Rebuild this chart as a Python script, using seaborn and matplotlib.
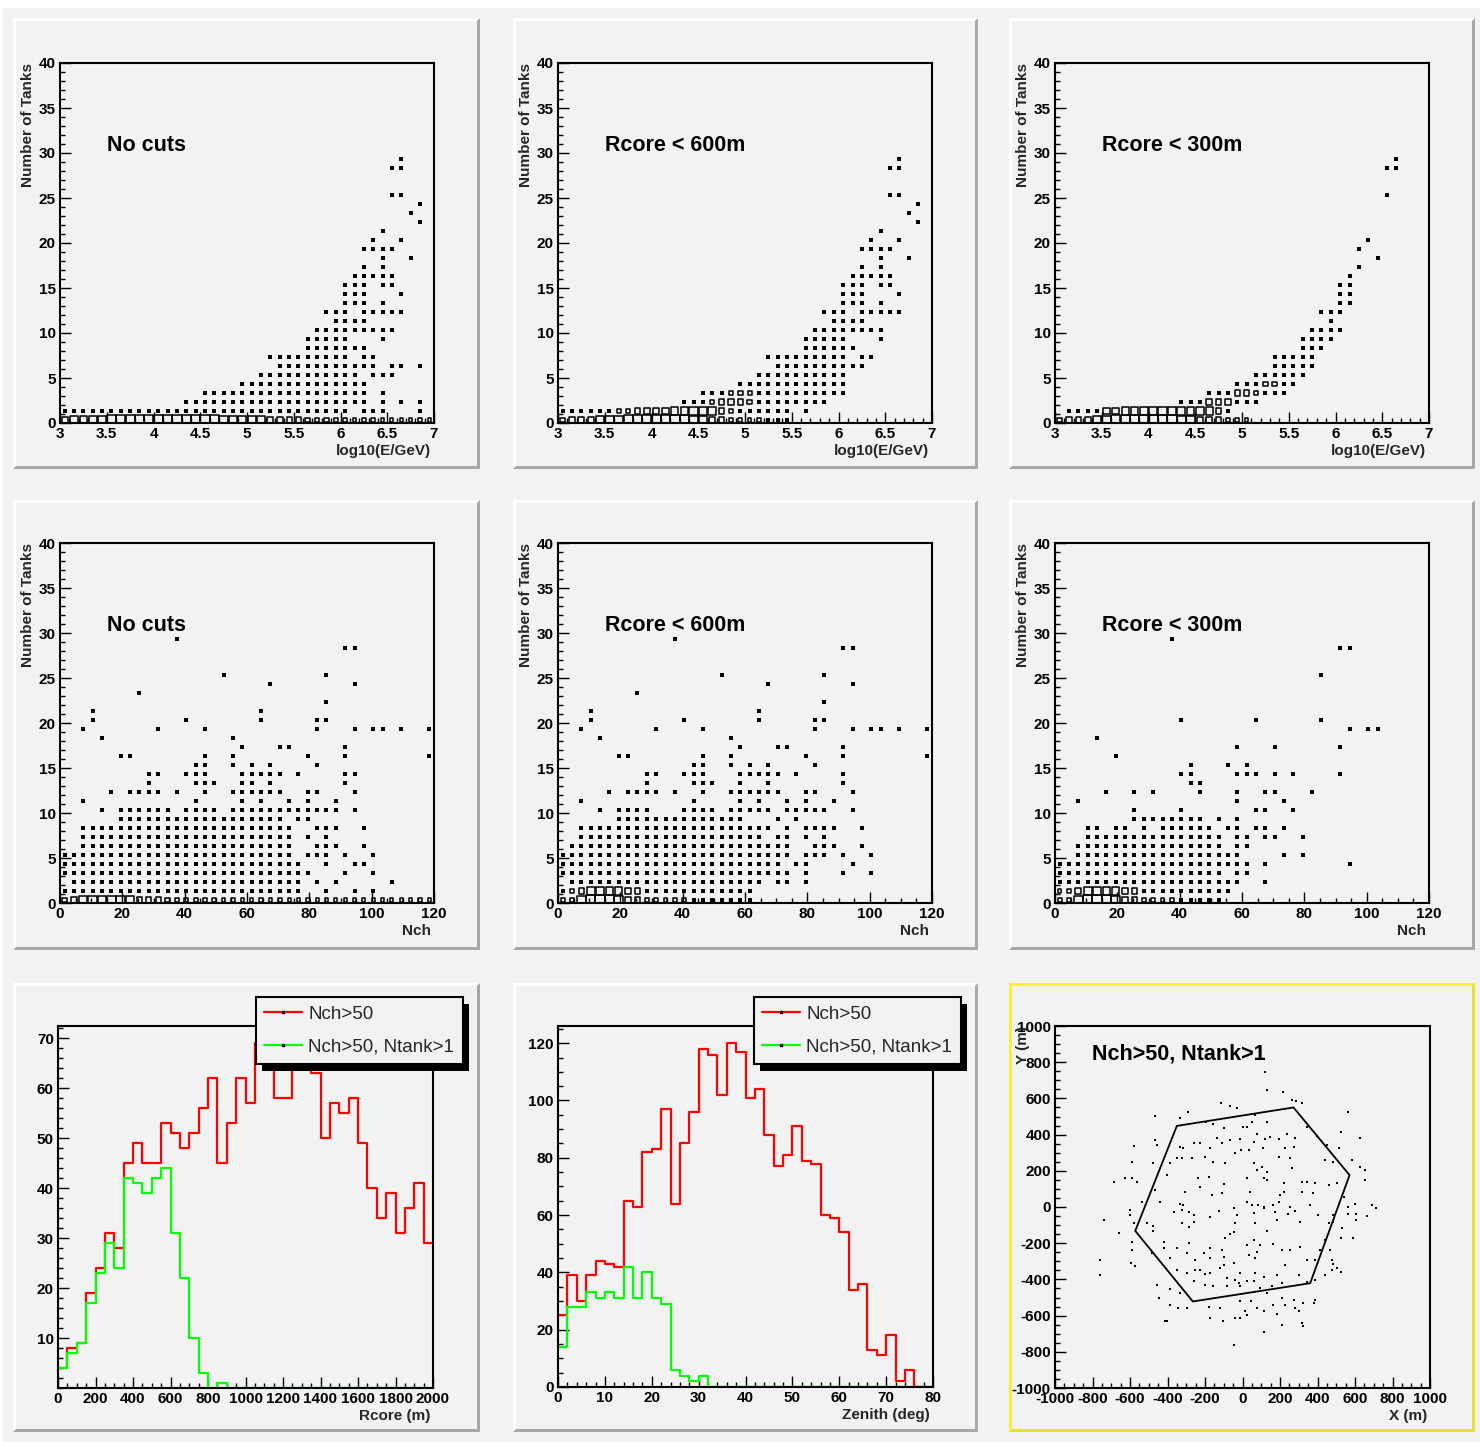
import numpy as np
import pandas as pd
import matplotlib
matplotlib.use("Agg")
import matplotlib.pyplot as plt
import seaborn as sns
from matplotlib.patches import Rectangle, Polygon
from matplotlib.lines import Line2D
from matplotlib.ticker import MultipleLocator, FixedLocator, FuncFormatter

# ============================ DATA ============================
# 2-D box histograms (Number of Tanks vs x).  Key = tank row k,
# value = occupied x-bin indices (single-entry bins drawn as dots).
E_NOCUT_DOTS = {29: "36", 28: "35,36", 25: "35,36", 24: "38", 23: "37", 22: "38",
                21: "34", 20: "33,36", 19: "32-35", 18: "34,37", 17: "32,34",
                16: "31-35", 15: "30-32,34,35", 14: "30-32,36", 13: "30-32,34",
                12: "28-30,32-36", 11: "29-32", 10: "27-35", 9: "26-30,34",
                8: "26-32", 7: "22-30,32,33", 6: "23-33,35,36,38", 5: "21-31,33-35",
                4: "19-32", 3: "15-32,34", 2: "13-32,34,36,38", 1: "0-30,32-34,38"}
# boxes: row k -> (first bin, relative box sizes)
E_NOCUT_BOXES = {0: (0, [0.6, 0.7, 0.75, 0.8, 0.85, 0.9, 0.9, 0.9, 0.9, 0.9,
                         0.9, 0.9, 0.9, 0.9, 0.9, 0.9, 0.9, 0.85, 0.85, 0.8,
                         0.8, 0.7, 0.6, 0.55, 0.5, 0.5, 0.45, 0.45, 0.4, 0.4,
                         0.4, 0.35, 0.35, 0.35, 0.3, 0.3, 0.3, 0.3, 0.3, 0.3])}

E_R600_DOTS = {29: "36", 28: "35,36", 25: "35,36", 24: "38", 23: "37", 22: "38",
               21: "34", 20: "33,36", 19: "32-35", 18: "34,37", 17: "32,34",
               16: "31-35", 15: "30-32,34,35", 14: "30-32,36", 13: "30-32,34",
               12: "28-30,32-36", 11: "29-32", 10: "27-34", 9: "26-30,34",
               8: "26-31", 7: "22-30,32,33", 6: "23-32", 5: "21-30", 4: "19-30",
               3: "15-17,21-30", 2: "13-15,21-28", 1: "0-5,19-24,26", 0: "22-24"}
E_R600_BOXES = {0: (0, [0.45, 0.55, 0.6, 0.6, 0.7, 0.8, 0.85, 0.9, 0.9, 0.95, 0.95,
                        0.95, 0.95, 0.9, 0.8, 0.7, 0.6, 0.55, 0.45, 0.4, 0.35, 0.35]),
                1: (6, [0.35, 0.4, 0.5, 0.55, 0.6, 0.65, 0.7, 0.7, 0.8, 0.85, 0.75, 0.55, 0.45]),
                2: (16, [0.4, 0.5, 0.55, 0.5, 0.45]),
                3: (18, [0.4, 0.45, 0.4])}

E_R300_DOTS = {29: "36", 28: "35,36", 25: "35", 20: "33", 19: "32", 18: "34", 17: "32",
               16: "31", 15: "30,31", 14: "30,31", 13: "30,31", 12: "28-30", 11: "29",
               10: "27-30", 9: "26-29", 8: "26-28", 7: "23-27", 6: "23-27", 5: "21-26",
               4: "19-21,24,25", 3: "16-18,22-24", 2: "13-15,19-21", 1: "1-4,18"}
E_R300_BOXES = {0: (0, [0.45, 0.55, 0.55, 0.6, 0.75, 0.85, 0.9, 0.9, 0.95, 0.95, 0.95,
                        0.9, 0.9, 0.85, 0.8, 0.6, 0.6, 0.55, 0.45, 0.4, 0.35]),
                1: (5, [0.6, 0.65, 0.7, 0.7, 0.75, 0.75, 0.8, 0.8, 0.8, 0.75, 0.7, 0.7, 0.5]),
                2: (16, [0.55, 0.55, 0.5]),
                3: (19, [0.5, 0.5, 0.45]),
                4: (22, [0.45, 0.45])}

N_NOCUT_DOTS = {29: "12", 28: "30,31", 25: "17,28", 24: "22,31", 23: "8", 22: "28",
                21: "3,21", 20: "3,13,21,27,28", 19: "2,10,15,27,31,33,34,36,39",
                18: "4,18", 17: "19,23,24,30", 16: "6,7,15,18,26,30,39",
                15: "14,15,18,20,22,27", 14: "9,10,13-15,19-23,25,30,31",
                13: "9,14-16,19,20,22,30", 12: "5,7-10,12,15,18-23,26,27,31",
                11: "2,14,19,21,24,26,29", 10: "4,6-11,13-16,18-29,31",
                9: "6-23,25,26", 8: "2-24,27-29,32", 7: "2-24,26,28",
                6: "2-24,27-29,32", 5: "0-24,26-28,30,33", 4: "0-25,28,31,32",
                3: "0-26,30,33", 2: "1-25,27,29,35", 1: "0-25,28,31,33"}
N_NOCUT_BOXES = {0: (0, [0.45, 0.5, 0.8, 0.85, 0.85, 0.85, 0.85, 0.8, 0.55, 0.5,
                         0.5, 0.45, 0.45, 0.4, 0.4, 0.35, 0.35, 0.35, 0.35, 0.35,
                         0.35, 0.35, 0.35, 0.35, 0.3, 0.3, 0.35, 0.3, 0.3, 0.3,
                         0.3, 0.3, 0.3, 0.3, 0.3, 0.3, 0.3, 0.3, 0.3, 0.3])}

N_R600_DOTS = {29: "12", 28: "30,31", 25: "17,28", 24: "22,31", 23: "8", 22: "28",
               21: "3,21", 20: "3,13,21,27,28", 19: "2,10,15,27,31,33,34,36,39",
               18: "4,18", 17: "19,23,24,30", 16: "6,7,15,18,26,30,39",
               15: "14,15,18,20,22,27", 14: "9,10,13-15,19-23,25,30",
               13: "9,14-16,19,22,30", 12: "5,7-10,12,15,18-23,26,27,31",
               11: "2,14,19,21,24,26,29", 10: "4,6-9,13-16,18-22,24-28,31",
               9: "6-19,23,25", 8: "2-22,24,26-29,32", 7: "2-21,23,24,26,28",
               6: "1-24,27-29,32", 5: "0-24,26-28,30,33", 4: "0-23,25,26,31",
               3: "0-24,26,30,33", 2: "1-21,23,24,26", 1: "0,9-20", 0: "14-20"}
N_R600_BOXES = {0: (0, [0.4, 0.45, 0.85, 0.9, 0.9, 0.9, 0.85, 0.55, 0.5, 0.4,
                        0.4, 0.35, 0.35, 0.35]),
                1: (1, [0.4, 0.55, 0.75, 0.8, 0.75, 0.7, 0.55, 0.5])}

N_R300_DOTS = {29: "12", 28: "30,31", 25: "28", 20: "13,21,28", 19: "31,33,34", 18: "4",
               17: "19,23,30", 16: "6", 15: "14,18,20", 14: "13,14,19-21,23,25,30",
               13: "14,15", 12: "5,8,10,15,19,22,23,27", 11: "2,19,24",
               10: "8,13,21,22,25", 9: "8-15,17,19",
               8: "3,4,6,7,9,11-16,18,19,21,22,24", 7: "3-17,19,20,22,23,26",
               6: "2-17,19,20", 5: "2-19,24,26", 4: "0-20,22,31", 3: "0-17,19,20",
               2: "0-19,22", 1: "9-18", 0: "13-17"}
N_R300_BOXES = {0: (0, [0.4, 0.45, 0.85, 0.9, 0.9, 0.9, 0.85, 0.55, 0.5, 0.4,
                        0.35, 0.35, 0.35]),
                1: (0, [0.35, 0.4, 0.6, 0.75, 0.8, 0.75, 0.7, 0.6, 0.5])}

# 1-D histograms (40 bins each)
RCORE_NCH50 = [4, 8, 9, 19, 24, 31, 28, 45, 49, 45, 45, 53, 51, 48, 51, 56, 62, 45, 53, 62,
               57, 69, 65, 58, 58, 64, 66, 63, 50, 57, 55, 58, 49, 40, 34, 39, 31, 36, 41, 29]
RCORE_NTANK1 = [4, 7, 9, 17, 23, 29, 24, 42, 41, 39, 42, 44, 31, 22, 10, 3, 0, 1, 0, 0,
                0, 0, 0, 0, 0, 0, 0, 0, 0, 0, 0, 0, 0, 0, 0, 0, 0, 0, 0, 0]
ZEN_NCH50 = [25, 39, 30, 39, 44, 43, 42, 65, 63, 82, 83, 97, 64, 85, 96, 118, 116, 102, 120, 117,
             101, 104, 88, 77, 81, 91, 79, 78, 60, 59, 54, 34, 36, 13, 11, 18, 2, 6, 0, 0]
ZEN_NTANK1 = [14, 28, 28, 33, 31, 33, 31, 42, 31, 40, 31, 29, 6, 4, 2, 4, 0, 0, 0, 0,
              0, 0, 0, 0, 0, 0, 0, 0, 0, 0, 0, 0, 0, 0, 0, 0, 0, 0, 0, 0]
LEGEND_LABELS = ["Nch>50", "Nch>50, Ntank>1"]

# core positions (m)
XY_POINTS = [(121,746),(130,645),(215,636),(263,590),(286,585),(316,572),(-114,572),(-69,559),(-27,548),(-293,526),(-466,504),(-332,493),(560,526),(68,507),(-194,471),(-155,458),(50,471),(130,471),(23,443),(-101,434),(4,443),(343,443),(524,415),(-466,369),(-261,351),(-226,351),(-137,382),(-66,369),(-12,375),(76,401),(121,375),(148,388),(192,375),(236,401),(281,379),(396,393),(624,379),(-457,342),(-581,338),(-332,333),(-315,327),(-172,324),(-110,351),(-9,314),(32,314),(59,360),(108,324),(228,327),(272,333),(450,342),(512,327),(-350,272),(-324,272),(-270,268),(-199,278),(-155,250),(-92,241),(-39,296),(59,241),(103,222),(130,195),(192,278),(254,268),(441,259),(485,250),(583,259),(628,222),(-590,250),(-475,241),(-386,241),(654,204),(-626,162),(-590,162),(-564,140),(-688,140),(-404,176),(-235,158),(-181,167),(-97,125),(-226,112),(23,158),(76,204),(112,158),(130,149),(219,131),(263,213),(316,140),(343,140),(388,131),(459,121),(503,131),(654,149),(-466,94),(-306,85),(-164,66),(-110,75),(41,85),(219,85),(201,66),(316,85),(375,75),(539,57),(-439,29),(-537,29),(-332,15),(-315,11),(23,29),(50,11),(85,11),(112,2),(165,11),(192,29),(254,2),(361,11),(565,2),(601,15),(690,11),(713,-7),(-599,-17),(-368,-26),(-324,-17),(-288,-29),(-261,-44),(-172,-53),(-128,-22),(-48,-7),(-30,-44),(59,-35),(112,-7),(174,-29),(245,-40),(281,-22),(308,-81),(405,-44),(485,-44),(565,-40),(606,-40),(663,-48),(-741,-72),(-599,-44),(-581,-90),(-510,-90),(-475,-103),(-324,-90),(-261,-81),(-288,-108),(-39,-90),(68,-90),(183,-72),(459,-90),(485,-81),(606,-72),(-661,-145),(-475,-132),(-48,-136),(130,-132),(-66,-151),(530,-118),(-590,-191),(-421,-191),(-288,-200),(-92,-173),(23,-210),(59,-182),(94,-210),(165,-206),(308,-219),(441,-182),(414,-237),(467,-237),(524,-173),(588,-173),(-590,-237),(-421,-228),(-350,-228),(-208,-255),(-172,-228),(-110,-237),(-101,-274),(32,-265),(76,-246),(68,-283),(210,-237),(254,-237),(-484,-255),(-386,-283),(-297,-255),(-252,-292),(-172,-283),(-101,-320),(-48,-311),(228,-320),(343,-292),(388,-292),(476,-292),(485,-316),(503,-338),(524,-357),(-595,-311),(-572,-324),(-759,-292),(-350,-347),(-297,-366),(-252,-347),(-226,-347),(-199,-369),(-172,-366),(-119,-338),(-84,-393),(-12,-366),(68,-366),(112,-384),(183,-375),(299,-375),(343,-412),(388,-404),(441,-375),(476,-347),(-759,-375),(-457,-430),(-261,-408),(-199,-430),(-155,-434),(-84,-434),(-39,-404),(-21,-421),(-12,-439),(23,-408),(59,-408),(94,-449),(156,-439),(210,-421),(-386,-452),(-332,-476),(59,-467),(130,-476),(-448,-504),(-386,-540),(-342,-559),(-297,-559),(-181,-550),(-119,-559),(-12,-518),(44,-522),(76,-559),(112,-574),(165,-540),(210,-504),(272,-513),(228,-540),(281,-559),(325,-531),(379,-531),(388,-513),(299,-577),(14,-577),(-39,-614),(-12,-614),(23,-595),(-172,-614),(-105,-632),(-416,-632),(-404,-632),(183,-590),(210,-654),(316,-641),(325,-660),(112,-693),(-48,-761)]
HEX_X = [-350, 272, 571, 361, -265, -572]
HEX_Y = [448, 550, 176, -421, -522, -132]

PANEL_TEXT_ROW = ["No cuts", "Rcore < 600m", "Rcore < 300m"]

# ============================ STYLE ============================
sns.set_theme(style="white")
plt.rcParams['font.family'] = ['Liberation Sans', 'DejaVu Sans']
plt.rcParams['font.weight'] = 'bold'
plt.rcParams['axes.unicode_minus'] = False

W, H = 1480, 1442
PAD_BG = '#f2f2f2'
fig = plt.figure(figsize=(W / 100, H / 100), dpi=100)
fig.patch.set_facecolor(PAD_BG)


def frac_rect(x0, y0, x1, y1):
    return [x0 / W, 1 - y1 / H, (x1 - x0) / W, (y1 - y0) / H]


def rect(x0, y0, x1, y1, color, z=-11):
    fig.patches.append(Rectangle((x0 / W, 1 - y1 / H), (x1 - x0) / W, (y1 - y0) / H,
                                 transform=fig.transFigure, fc=color, ec='none', zorder=z))


def poly(pts, color):
    fig.patches.append(Polygon([(x / W, 1 - y / H) for x, y in pts], closed=True,
                               transform=fig.transFigure, fc=color, ec='none', zorder=-9))


# canvas highlight strips (top / left)
rect(0, 0, W, 8, '#ffffff')
rect(0, 0, 3, H, '#ffffff')


def draw_pad(x0, y0, x1, y1, highlight=False):
    rect(x0, y0, x1, y1, PAD_BG, z=-10)
    b = 3
    light = [(x0, y1), (x0, y0), (x1, y0), (x1 - b, y0 + b), (x0 + b, y0 + b), (x0 + b, y1 - b)]
    dark = [(x1, y0), (x1, y1), (x0, y1), (x0 + b, y1 - b), (x1 - b, y1 - b), (x1 - b, y0 + b)]
    if highlight:
        poly(light, '#f6f03c')
        poly(dark, '#e8e030')
    else:
        poly(light, '#ffffff')
        poly(dark, '#a8a8a8')


PAD_COLS = [(13, 480), (513, 978), (1009, 1475)]
PAD_ROWS = [(18, 469), (500, 950), (983, 1432)]
for r, (py0, py1) in enumerate(PAD_ROWS):
    for c, (px0, px1) in enumerate(PAD_COLS):
        draw_pad(px0, py0, px1, py1, highlight=(r == 2 and c == 2))

AX_POS = {
    (0, 0): (60, 63, 434, 423), (0, 1): (558, 63, 932, 423), (0, 2): (1055, 63, 1429, 423),
    (1, 0): (60, 543, 434, 903), (1, 1): (558, 543, 932, 903), (1, 2): (1055, 543, 1429, 903),
    (2, 0): (58, 1026, 433, 1388), (2, 1): (558, 1026, 933, 1387), (2, 2): (1055, 1026, 1430, 1388),
}
fmt = FuncFormatter(lambda v, p: f"{v:g}")


def style(ax, xlim, ylim, xmaj, xmin_, ymaj, ymin_, yticks=None):
    ax.set_xlim(xlim)
    ax.set_ylim(ylim)
    ax.set_facecolor('none')
    ax.xaxis.set_major_locator(MultipleLocator(xmaj))
    ax.xaxis.set_minor_locator(MultipleLocator(xmin_))
    if yticks is not None:
        ax.yaxis.set_major_locator(FixedLocator(yticks))
    else:
        ax.yaxis.set_major_locator(MultipleLocator(ymaj))
    ax.yaxis.set_minor_locator(MultipleLocator(ymin_))
    ax.xaxis.set_major_formatter(fmt)
    ax.yaxis.set_major_formatter(fmt)
    ax.tick_params(which='both', direction='in', top=False, right=False, bottom=True,
                   left=True, colors='black', labelsize=11, pad=3, width=1.0)
    ax.tick_params(which='major', length=7.8)
    ax.tick_params(which='minor', length=3.9)
    for sp in ax.spines.values():
        sp.set_visible(True)
        sp.set_linewidth(1.5)
        sp.set_color('black')
    ax.set_xlabel('')
    ax.set_ylabel('')
    ax.grid(False)


def xtitle(ax, text):
    ax.annotate(text, xy=(1, 0), xycoords='axes fraction', xytext=(-2, -20),
                textcoords='offset points', ha='right', va='center', fontsize=11,
                fontweight='bold')


def ytitle(ax, text):
    ax.annotate(text, xy=(0, 1), xycoords='axes fraction', xytext=(-23, 0),
                textcoords='offset points', ha='center', va='top', rotation=90,
                fontsize=11, fontweight='bold')


def parse_cols(spec):
    out = []
    for part in spec.split(','):
        if '-' in part:
            a, b = part.split('-')
            out.extend(range(int(a), int(b) + 1))
        else:
            out.append(int(part))
    return out


YOFF = 0.33
BIN_PT = 7.4


def cells(dots, boxes, xlo, dx):
    rows = []
    for k, spec in dots.items():
        for i in parse_cols(spec):
            rows.append((xlo + (i + 0.5) * dx, k + YOFF, 0.0))
    for k, (start, sizes) in boxes.items():
        for j, s in enumerate(sizes):
            rows.append((xlo + (start + j + 0.5) * dx, k + YOFF, s))
    return pd.DataFrame(rows, columns=['x', 'y', 'size'])


def draw_box_hist(ax, dots, boxes, xlo, dx):
    df = cells(dots, boxes, xlo, dx)
    d = df[df['size'] == 0]
    sns.scatterplot(x=d['x'].to_numpy(), y=d['y'].to_numpy(), marker='s', s=10,
                    color='black', linewidth=0, ax=ax, legend=False)
    b = df[df['size'] > 0]
    sns.scatterplot(x=b['x'].to_numpy(), y=b['y'].to_numpy(), marker='s',
                    s=(b['size'].to_numpy() * BIN_PT) ** 2, facecolor='none',
                    edgecolor='black', linewidth=1.1, ax=ax, legend=False)


def panel_text(ax, text, x, y):
    ax.text(x, y, text, transform=ax.transAxes, ha='left', va='center',
            fontsize=15.5, fontweight='bold', color='black')


# ---- row 1 : energy ----
E_SETS = [(E_NOCUT_DOTS, E_NOCUT_BOXES), (E_R600_DOTS, E_R600_BOXES), (E_R300_DOTS, E_R300_BOXES)]
for c, (dots, boxes) in enumerate(E_SETS):
    ax = fig.add_axes(frac_rect(*AX_POS[(0, c)]))
    draw_box_hist(ax, dots, boxes, 3.0, 0.1)
    style(ax, (3, 7), (0, 40), 0.5, 0.1, 5, 1)
    xtitle(ax, 'log10(E/GeV)')
    ytitle(ax, 'Number of Tanks')
    panel_text(ax, PANEL_TEXT_ROW[c], 0.125, 0.772)

# ---- row 2 : Nch ----
N_SETS = [(N_NOCUT_DOTS, N_NOCUT_BOXES), (N_R600_DOTS, N_R600_BOXES), (N_R300_DOTS, N_R300_BOXES)]
for c, (dots, boxes) in enumerate(N_SETS):
    ax = fig.add_axes(frac_rect(*AX_POS[(1, c)]))
    draw_box_hist(ax, dots, boxes, 0.0, 3.0)
    style(ax, (0, 120), (0, 40), 20, 5, 5, 1)
    xtitle(ax, 'Nch')
    ytitle(ax, 'Number of Tanks')
    panel_text(ax, PANEL_TEXT_ROW[c], 0.125, 0.772)

# ---- row 3 : 1-D histograms ----
def step_hist(ax, vals, lo, hi, color):
    nb = len(vals)
    width = (hi - lo) / nb
    hdf = pd.DataFrame({'c': [lo + (i + 0.5) * width for i in range(nb)],
                        'w': [float(v) for v in vals]})
    sns.histplot(data=hdf, x='c', weights='w', bins=nb, binrange=(lo, hi),
                 element='step', fill=False, color=color, linewidth=1.6, ax=ax,
                 legend=False)


ax_r = fig.add_axes(frac_rect(*AX_POS[(2, 0)]))
step_hist(ax_r, RCORE_NCH50, 0, 2000, '#ff0000')
step_hist(ax_r, RCORE_NTANK1, 0, 2000, '#00ff00')
style(ax_r, (0, 2000), (0, max(RCORE_NCH50) * 1.05), 200, 50, 10, 2,
      yticks=[10, 20, 30, 40, 50, 60, 70])
xtitle(ax_r, 'Rcore (m)')

ax_z = fig.add_axes(frac_rect(*AX_POS[(2, 1)]))
step_hist(ax_z, ZEN_NCH50, 0, 80, '#ff0000')
step_hist(ax_z, ZEN_NTANK1, 0, 80, '#00ff00')
style(ax_z, (0, 80), (0, max(ZEN_NCH50) * 1.05), 10, 2, 20, 5)
xtitle(ax_z, 'Zenith (deg)')

ax_xy = fig.add_axes(frac_rect(*AX_POS[(2, 2)]))
xy = pd.DataFrame(XY_POINTS, columns=['x', 'y'])
sns.scatterplot(data=xy, x='x', y='y', marker='s', s=3, color='black', linewidth=0,
                ax=ax_xy, legend=False)
sns.lineplot(x=HEX_X + HEX_X[:1], y=HEX_Y + HEX_Y[:1], sort=False, estimator=None,
             color='black', linewidth=1.3, ax=ax_xy)
style(ax_xy, (-1000, 1000), (-1000, 1000), 200, 50, 200, 50)
xtitle(ax_xy, 'X (m)')
ytitle(ax_xy, 'Y (m)')
panel_text(ax_xy, 'Nch>50, Ntank>1', 0.1, 0.923)

# ---- legends with ROOT-like drop shadow ----
handles = [Line2D([], [], color='#ff0000', lw=1.6, marker='s', markersize=2,
                  markerfacecolor='black', markeredgecolor='black'),
           Line2D([], [], color='#00ff00', lw=1.6, marker='s', markersize=2,
                  markerfacecolor='black', markeredgecolor='black')]
legends = []
for lx in (256, 754):
    leg = fig.legend(handles, LEGEND_LABELS, loc='upper left',
                     bbox_to_anchor=(lx / W, 1 - 997 / H), bbox_transform=fig.transFigure,
                     frameon=True, fancybox=False, shadow=False, edgecolor='black',
                     facecolor=PAD_BG, framealpha=1, numpoints=1,
                     prop={'family': 'Liberation Sans', 'weight': 'normal', 'size': 13.5},
                     handlelength=2.0, handletextpad=0.35, borderpad=0.45,
                     labelspacing=0.85, borderaxespad=0)
    leg.get_frame().set_linewidth(1.5)
    leg.set_zorder(6)
    legends.append(leg)

fig.canvas.draw()
for leg in legends:
    bb = leg.get_window_extent()
    fig.patches.append(Rectangle(((bb.x0 + 6) / W, (bb.y0 - 7) / H), bb.width / W, bb.height / H,
                                 transform=fig.transFigure, fc='black', ec='none', zorder=5))

fig.savefig('out.png', dpi=100, facecolor=fig.get_facecolor())
